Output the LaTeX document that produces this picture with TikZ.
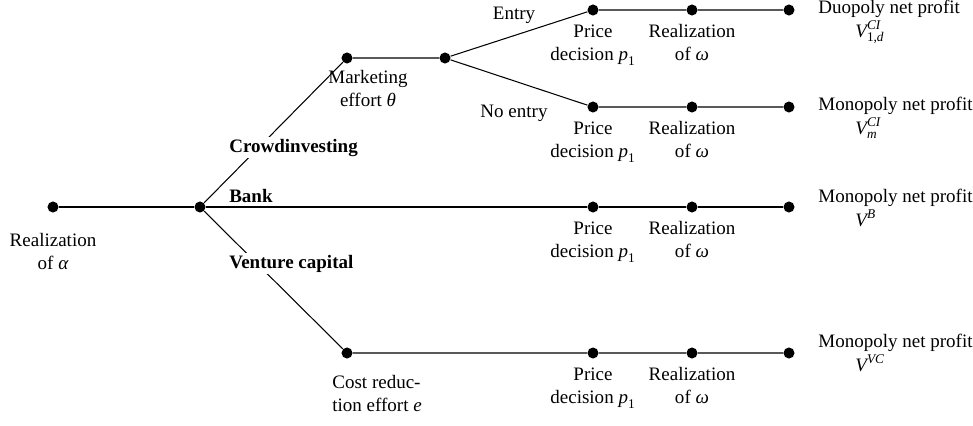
\documentclass[tikz,border=0pt]{standalone}
\usepackage{amsmath}
\usepackage{fontspec}
\setmainfont{Liberation Serif}
\newcommand{\mi}[1]{\text{\itshape #1}}
\begin{document}
\begin{tikzpicture}[x=0.526pt,y=-0.526pt,
  dot/.style={circle,fill=black,inner sep=0pt,minimum size=5.8pt},
  edge/.style={line width=0.55pt},
  lbl/.style={inner sep=0pt,font=\fontsize{10}{12}\selectfont,align=center,anchor=base},
  lbll/.style={inner sep=0pt,font=\fontsize{10}{12}\selectfont,align=left,anchor=base west},
  blbl/.style={inner sep=1pt,font=\fontsize{10}{12}\selectfont\bfseries,anchor=base west,fill=white}]
\useasboundingbox (0,0) rectangle (973,425);
% dots
\node[dot] (r0) at (53,207) {};
\node[dot] (r1) at (200,207) {};
\node[dot] (c1) at (347,58) {};
\node[dot] (c2) at (445,58) {};
\node[dot] (e1) at (593,10) {};
\node[dot] (e2) at (692,10) {};
\node[dot] (e3) at (789,10) {};
\node[dot] (n1) at (593,107) {};
\node[dot] (n2) at (692,107) {};
\node[dot] (n3) at (789,107) {};
\node[dot] (b1) at (593,207) {};
\node[dot] (b2) at (692,207) {};
\node[dot] (b3) at (789,207) {};
\node[dot] (v1) at (347,353) {};
\node[dot] (v2) at (593,353) {};
\node[dot] (v3) at (692,353) {};
\node[dot] (v4) at (789,353) {};
% edges
\draw[edge] (r0) -- (r1);
\draw[edge] (r1) -- (c1) -- (c2);
\draw[edge] (c2) -- (e1) -- (e2) -- (e3);
\draw[edge] (c2) -- (n1) -- (n2) -- (n3);
\draw[edge] (r1) -- (b1) -- (b2) -- (b3);
\draw[edge] (r1) -- (v1) -- (v2) -- (v3) -- (v4);
% branch labels
\node[blbl] (lci) at (227,152) {Crowdinvesting};
\node[blbl] (lbk) at (227,202) {Bank};
\node[blbl] (lvc) at (227,268) {Venture capital};
\node[lbl] (lent) at (514,19) {Entry};
\node[lbl] (lnoe) at (514,117) {No entry};
% stage labels (base = last line)
\node[lbl] (la) at (53,269) {Realization\\of $\mi{α}$};
\node[lbl] (lm) at (368,106) {Marketing\\effort $\mi{θ}$};
\node[lbll] (lcr) at (332,411) {Cost reduc-\\tion effort $\mi{e}$};
\foreach \n/\y in {e/10,n/107,b/207,v/353}{
  \node[lbl] (lp\n) at (593,\y+50) {Price\\decision $\mi{p}_{\text{1}}$};
  \node[lbl] (lw\n) at (692,\y+50) {Realization\\of $\mi{ω}$};
}
% outcome labels
\node[lbll] (o1) at (818,13) {Duopoly net profit};
\node[lbll] (o1v) at (855,37) {$\mi{V}^{\mi{CI}}_{\text{1,}\mi{d}}$};
\node[lbll] (o2) at (818,110) {Monopoly net profit};
\node[lbll] (o2v) at (855,134) {$\mi{V}^{\mi{CI}}_{\mi{m}}$};
\node[lbll] (o3) at (818,202) {Monopoly net profit};
\node[lbll] (o3v) at (855,226) {$\mi{V}^{\mi{B}}$};
\node[lbll] (o4) at (818,347) {Monopoly net profit};
\node[lbll] (o4v) at (855,371) {$\mi{V}^{\mi{VC}}$};
\end{tikzpicture}
\end{document}
